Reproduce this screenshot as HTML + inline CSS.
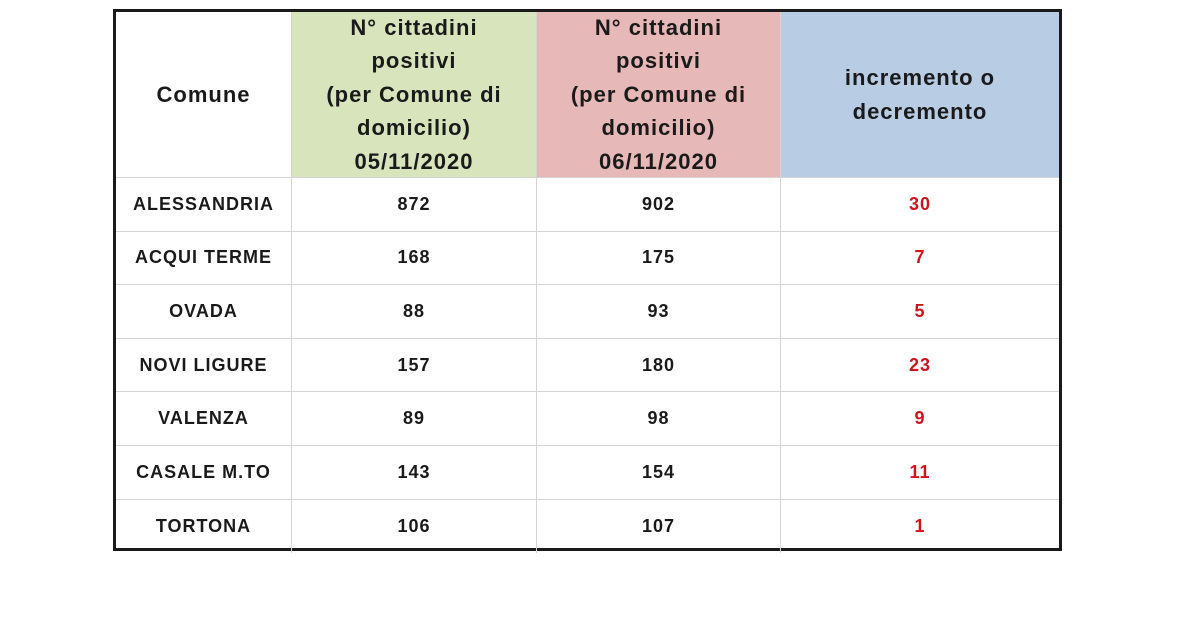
<!DOCTYPE html>
<html><head><style>
body{margin:0;width:1200px;height:640px;background:#fff;position:relative;overflow:hidden;font-family:"Liberation Sans",sans-serif;font-weight:bold}
.t{position:absolute;left:113px;top:9px;width:949px;height:542px;border:3px solid #1a1a1a;box-sizing:border-box}
.c{position:absolute;display:flex;align-items:center;justify-content:center;text-align:center;box-sizing:border-box;border-right:1px solid #d4d4d4;border-bottom:1px solid #d4d4d4;color:#1a1a1a}
.h{font-size:22px;line-height:33.5px;letter-spacing:1px}
.b{font-size:18px;letter-spacing:1px}
.r{color:#d0141a}
</style></head><body>
<div class="t">
<div class="c h" style="left:0;top:0;width:176px;height:166px;">Comune</div>
<div class="c h" style="left:176px;top:0;width:245px;height:166px;background:#d8e4bc">N° cittadini<br>positivi<br>(per Comune di<br>domicilio)<br>05/11/2020</div>
<div class="c h" style="left:421px;top:0;width:244px;height:166px;background:#e6b8b7">N° cittadini<br>positivi<br>(per Comune di<br>domicilio)<br>06/11/2020</div>
<div class="c h" style="left:665px;top:0;width:278px;height:166px;background:#b8cce4;border-right:none">incremento o<br>decremento</div>
</div>
<script>
const d=[["ALESSANDRIA",872,902,30],["ACQUI TERME",168,175,7],["OVADA",88,93,5],["NOVI LIGURE",157,180,23],["VALENZA",89,98,9],["CASALE M.TO",143,154,11],["TORTONA",106,107,1]];
const t=document.querySelector('.t');const L=[0,176,421,665,943];
d.forEach((r,i)=>{const y=166+i*53.6;r.forEach((v,j)=>{const e=document.createElement('div');e.className='c b'+(j==3?' r':'');e.style.cssText=`left:${L[j]}px;top:${y}px;width:${L[j+1]-L[j]}px;height:53.6px;`+(j==3?'border-right:none;':'')+(i==6?'border-bottom:none;':'');e.textContent=v;t.appendChild(e);});});
</script>
</body></html>
